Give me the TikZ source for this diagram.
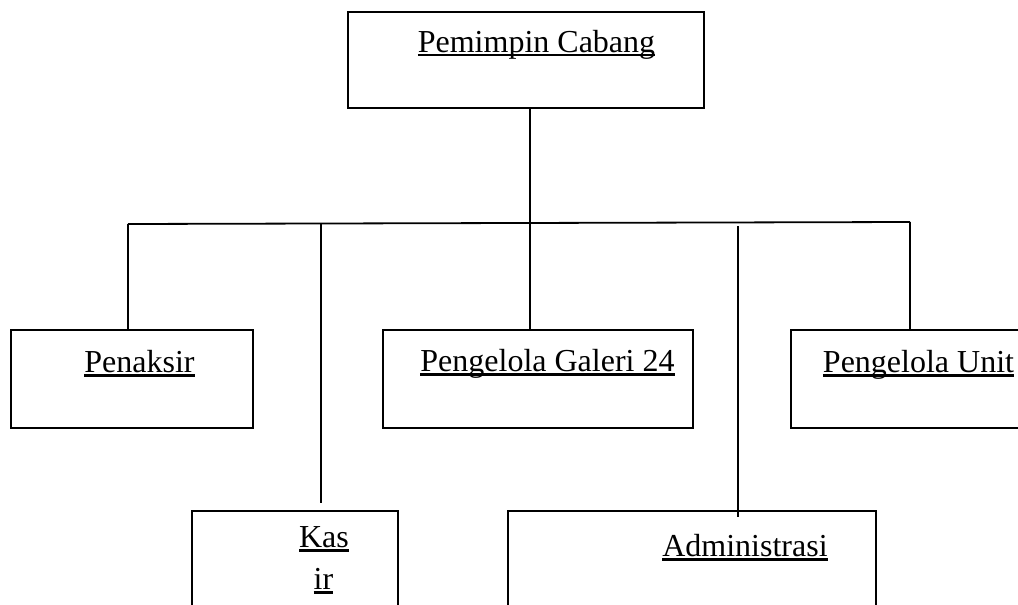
\documentclass[tikz,border=0pt]{standalone}
\usepackage{fontspec}
\setmainfont{Liberation Serif}
\newcommand{\myul}[1]{\setbox0\hbox{#1}\rlap{\rule[-4.5pt]{\wd0}{2.2pt}}\box0}
\tikzset{
  orgbox/.style={draw, line width=2pt, inner sep=0pt},
  lbl/.style={anchor=base, inner sep=0pt, font=\fontsize{32}{40}\selectfont},
  conn/.style={line width=1.8pt}
}
\begin{document}
\begin{tikzpicture}[x=1pt,y=-1pt]
\clip (0,0) rectangle (1018,605);
\fill[white] (0,0) rectangle (1018,605);
% boxes
\node[orgbox, minimum width=356pt, minimum height=96pt] (top) at (526,60) {};
\node[orgbox, minimum width=242pt, minimum height=98pt] (penaksir) at (132,379) {};
\node[orgbox, minimum width=310pt, minimum height=98pt] (galeri) at (538,379) {};
\node[orgbox, minimum width=249pt, minimum height=98pt] (unit) at (915.5,379) {};
\node[orgbox, minimum width=206pt, minimum height=129pt] (kasir) at (295,575.5) {};
\node[orgbox, minimum width=368pt, minimum height=129pt] (admin) at (692,575.5) {};
% texts
\node[lbl] (ttop) at (536.5,52) {\myul{Pemimpin Cabang}};
\node[lbl] (tpenaksir) at (139.5,372) {\myul{Penaksir}};
\node[lbl] (tgaleri) at (547.5,371) {\myul{Pengelola Galeri 24}};
\node[lbl] (tunit) at (918.5,372) {\myul{Pengelola Unit}};
\node[lbl] (tkas) at (324,547) {\myul{Kas}};
\node[lbl] (tir) at (323.5,589) {\myul{ir}};
\node[lbl] (tadmin) at (745,556) {\myul{Administrasi}};
% connector coordinates
\coordinate (busL) at (128,224);
\coordinate (busR) at (910,222);
\coordinate (kasTop) at (321,224);
\coordinate (kasEnd) at (321,503);
\coordinate (admTop) at (738,226);
\coordinate (admEnd) at (738,517);
% connectors
\draw[conn] (top.south -| 530,0) -- (galeri.north -| 530,0);
\draw[conn] (busL) -- (busR);
\draw[conn] (busL) -- (penaksir.north -| busL);
\draw[conn] (kasTop) -- (kasEnd);
\draw[conn] (admTop) -- (admEnd);
\draw[conn] (busR) -- (unit.north -| busR);
\end{tikzpicture}
\end{document}
